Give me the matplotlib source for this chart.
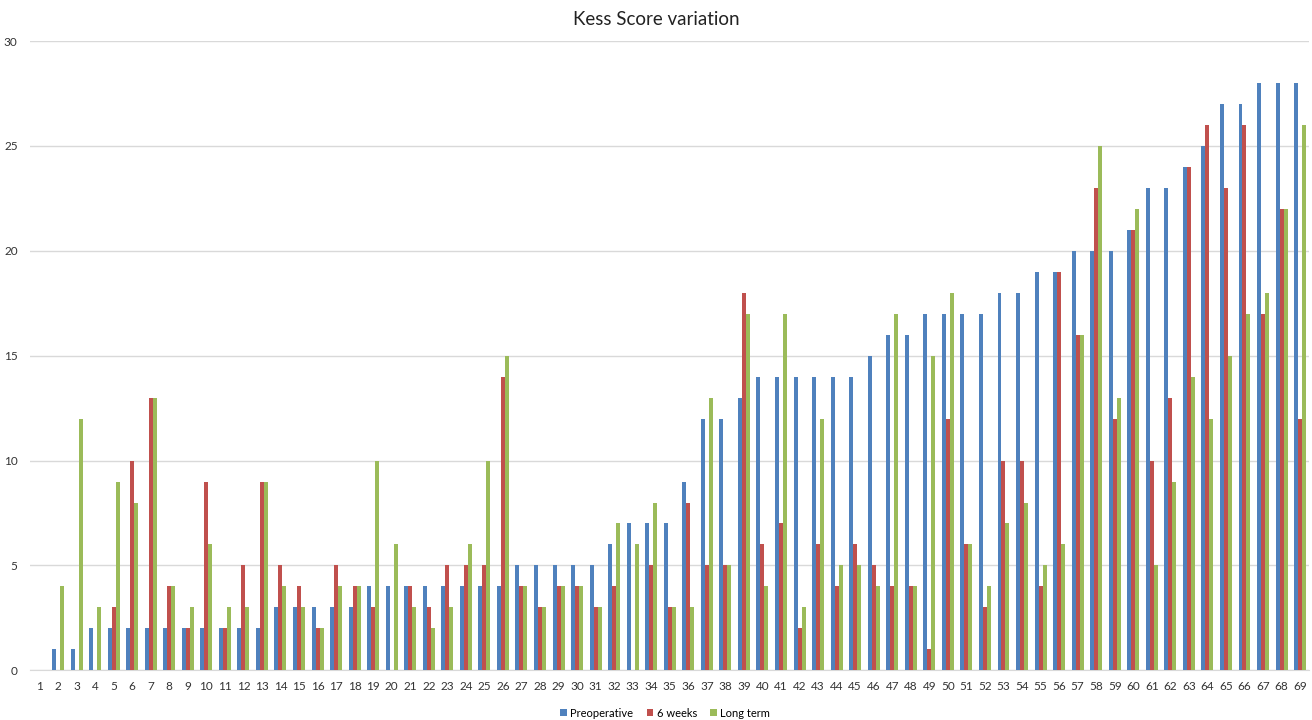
import matplotlib.pyplot as plt
import numpy as np

plt.rcParams['font.family'] = ['Lato', 'DejaVu Sans']

patients = np.arange(1, 70)

preoperative = [0, 1, 1, 2, 2, 2, 2, 2, 2, 2, 2, 2, 2, 3, 3, 3, 3, 3, 4, 4,
                4, 4, 4, 4, 4, 4, 5, 5, 5, 5, 5, 6, 7, 7, 7, 9, 12, 12, 13, 14,
                14, 14, 14, 14, 14, 15, 16, 16, 17, 17, 17, 17, 18, 18, 19, 19, 20, 20, 20, 21,
                23, 23, 24, 25, 27, 27, 28, 28, 28]
six_weeks = [0, 0, 0, 0, 3, 10, 13, 4, 2, 9, 2, 5, 9, 5, 4, 2, 5, 4, 3, 0,
             4, 3, 5, 5, 5, 14, 4, 3, 4, 4, 3, 4, 0, 5, 3, 8, 5, 5, 18, 6,
             7, 2, 6, 4, 6, 5, 4, 4, 1, 12, 6, 3, 10, 10, 4, 19, 16, 23, 12, 21,
             10, 13, 24, 26, 23, 26, 17, 22, 12]
long_term = [0, 4, 12, 3, 9, 8, 13, 4, 3, 6, 3, 3, 9, 4, 3, 2, 4, 4, 10, 6,
             3, 2, 3, 6, 10, 15, 4, 3, 4, 4, 3, 7, 6, 8, 3, 3, 13, 5, 17, 4,
             17, 3, 12, 5, 5, 4, 17, 4, 15, 18, 6, 4, 7, 8, 5, 6, 16, 25, 13, 22,
             5, 9, 14, 12, 15, 17, 18, 22, 26]

series = [("Preoperative", preoperative, "#4F81BD"),
          ("6 weeks", six_weeks, "#C0504D"),
          ("Long term", long_term, "#9BBB59")]

fig = plt.figure(figsize=(13.12, 7.2), dpi=100)
ax = fig.add_axes([0.023, 0.069, 0.975, 0.874])

w = 0.215
for i, (name, vals, col) in enumerate(series):
    ax.bar(patients + (i - 1) * w, vals, width=w, color=col, label=name, zorder=3)

ax.set_xlim(0.5, 69.5)
ax.set_ylim(0, 30)
ax.set_yticks(np.arange(0, 31, 5))
ax.set_xticks(patients)
ax.set_xticklabels([str(p) for p in patients])
ax.tick_params(axis='both', length=0, labelsize=8.5, colors='#333333')
ax.tick_params(axis='x', pad=8)
ax.tick_params(axis='y', pad=9)
ax.grid(axis='y', color='#D9D9D9', linewidth=1, zorder=0)
for s in ['left', 'right', 'top']:
    ax.spines[s].set_visible(False)
ax.spines['bottom'].set_color('#D9D9D9')

fig.suptitle("Kess Score variation", y=0.985, fontsize=13.5, color='#222222')
fig.legend(loc='lower center', bbox_to_anchor=(0.507, -0.012), ncol=3, frameon=False,
           fontsize=8, handlelength=0.6, handleheight=0.6, handletextpad=0.3,
           columnspacing=1.2)

fig.savefig("out.png", dpi=100)
